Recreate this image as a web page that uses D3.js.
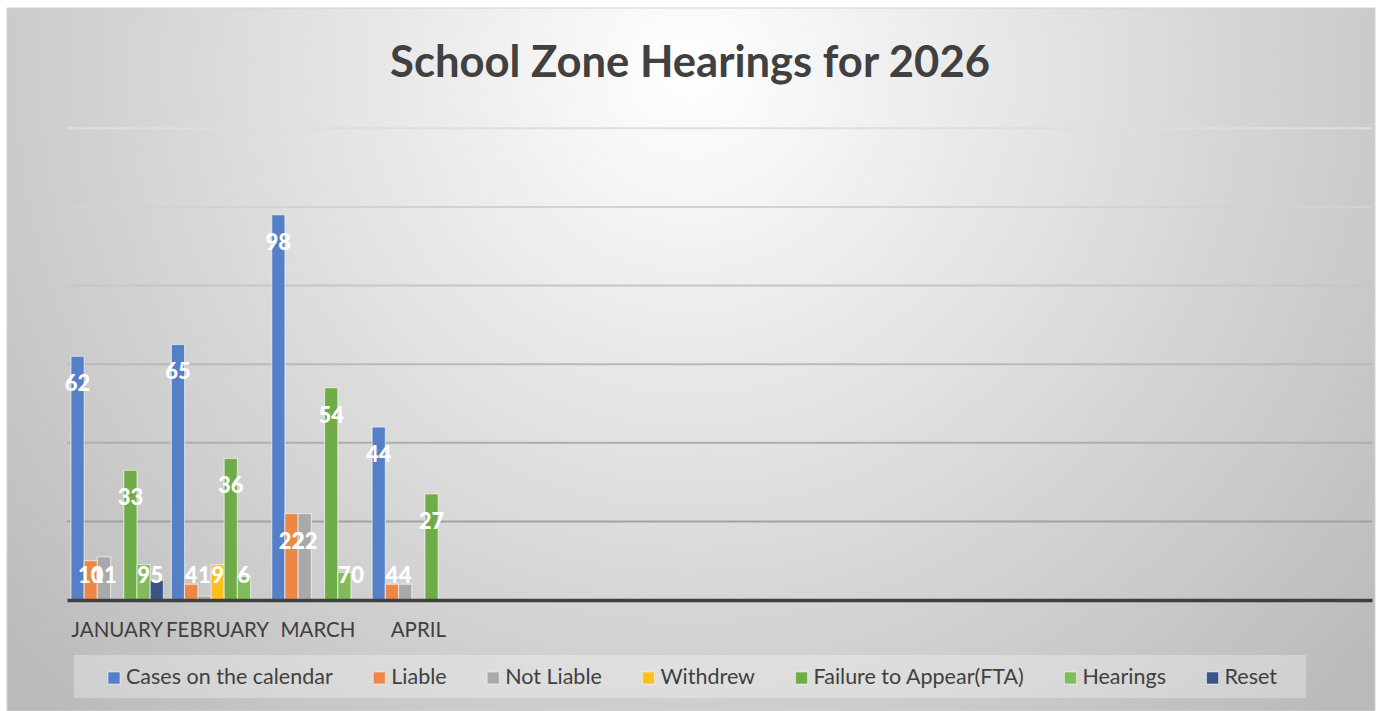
<!DOCTYPE html>
<html>
<head>
<meta charset="utf-8">
<script src="https://cdn.jsdelivr.net/npm/d3@7"></script>
<style>
  html, body { margin: 0; padding: 0; background: #ffffff; }
  svg { display: block; }
  text { font-family: Lato, "Open Sans", sans-serif; }
</style>
</head>
<body>
<svg id="chart" width="1382" height="711"></svg>
<script>
// ---- data ----
const title = "School Zone Hearings for 2026";
const months = ["JANUARY", "FEBRUARY", "MARCH", "APRIL", "", "", "", "", "", "", "", "", ""];
const seriesNames = ["Cases on the calendar", "Liable", "Not Liable", "Withdrew", "Failure to Appear(FTA)", "Hearings", "Reset"];
const casesOnCalendar = [62, 65, 98, 44];
const liable = [10, 4, 22, 4];
const notLiable = [11, 1, 22, 4];
const withdrew = [null, 9, null, null];
const failureToAppear = [33, 36, 54, 27];
const hearings = [9, 6, 7, null];
const reset = [5, null, 0, null];
const yTicks = [0, 20, 40, 60, 80, 100, 120];
const colors = ["#5580c8", "#ed8746", "#a9a9a9", "#fcc01e", "#6fac47", "#82bb5c", "#3a5488"];

const seriesValues = [casesOnCalendar, liable, notLiable, withdrew, failureToAppear, hearings, reset];

// ---- layout ----
const plot = { left: 67, right: 1372, top: 128.3, bottom: 600 };
const svg = d3.select("#chart");
const defs = svg.append("defs");

const bg = defs.append("radialGradient").attr("id", "bg")
  .attr("gradientUnits", "userSpaceOnUse")
  .attr("cx", 690).attr("cy", 70).attr("r", 900);
bg.append("stop").attr("offset", 0).attr("stop-color", "#ffffff");
bg.append("stop").attr("offset", 1).attr("stop-color", "#bababa");

svg.append("rect").attr("x", 7).attr("y", 8).attr("width", 1368).attr("height", 703)
  .attr("fill", "url(#bg)").attr("stroke", "#d4d4d4").attr("stroke-width", 1);

// scales
const x0 = d3.scaleBand().domain(d3.range(months.length)).range([plot.left, plot.right]).padding(0);
const x1 = d3.scaleBand().domain(d3.range(seriesNames.length)).range([0, x0.bandwidth()])
  .paddingInner(0).paddingOuter(0.3);
const y = d3.scaleLinear().domain([0, 120]).range([plot.bottom, plot.top]);

// gridlines
const gridColor = d3.scaleLinear().domain([plot.top, plot.bottom]).range(["#dedede", "#969696"]);
svg.append("g").selectAll("line").data(yTicks.filter(d => d > 0)).join("line")
  .attr("x1", plot.left).attr("x2", plot.right)
  .attr("y1", d => y(d)).attr("y2", d => y(d))
  .attr("stroke", d => gridColor(y(d))).attr("stroke-width", 2);

// bars
const barData = [];
months.forEach((m, i) => {
  seriesValues.forEach((vals, s) => {
    const v = vals[i];
    if (v !== null && v !== undefined) barData.push({ i, s, v });
  });
});

svg.append("g").selectAll("rect").data(barData).join("rect")
  .attr("x", d => x0(d.i) + x1(d.s))
  .attr("y", d => y(d.v))
  .attr("width", x1.bandwidth())
  .attr("height", d => y(0) - y(d.v))
  .attr("fill", d => colors[d.s])
  .attr("stroke", "rgba(255,255,255,0.55)")
  .attr("stroke-width", 1.2);

// baseline axis
const xAxis = d3.axisBottom(x0).tickSize(0).tickFormat(i => months[i]);
const gx = svg.append("g").attr("transform", `translate(0,${plot.bottom})`).call(xAxis);
gx.select(".domain").attr("stroke", "#404040").attr("stroke-width", 3.5);
gx.selectAll("text").attr("font-size", 20.5).attr("fill", "#404040")
  .attr("dy", "0").attr("y", 37).attr("font-family", "Lato, sans-serif");

// data labels
svg.append("g").selectAll("text").data(barData).join("text")
  .attr("x", d => x0(d.i) + x1(d.s) + x1.bandwidth() / 2)
  .attr("y", d => Math.min(y(d.v) + 27, y(0) - 25) + 8)
  .attr("text-anchor", "middle")
  .attr("font-size", 22).attr("font-weight", 900)
  .attr("fill", "#ffffff")
  .text(d => d.v);

// title
const t = svg.append("text").attr("x", 690).attr("y", 77)
  .attr("text-anchor", "middle").attr("font-weight", 700).attr("font-size", 40)
  .attr("fill", "#404040").text(title);
const tw = t.node().getComputedTextLength();
t.attr("font-size", 40 * 600 / tw);

// legend
svg.append("rect").attr("x", 74).attr("y", 655).attr("width", 1232).attr("height", 43)
  .attr("fill", "rgba(255,255,255,0.3)");
const lg = svg.append("g");
const items = lg.selectAll("g").data(seriesNames).join("g");
items.append("rect").attr("width", 12).attr("height", 12).attr("y", -12)
  .attr("fill", (d, i) => colors[i]).attr("stroke", "rgba(255,255,255,0.5)").attr("stroke-width", 1);
items.append("text").attr("x", 18).attr("y", 0).attr("font-size", 21.5).attr("fill", "#404040").text(d => d);
const widths = [];
items.each(function () {
  widths.push(18 + d3.select(this).select("text").node().getComputedTextLength());
});
const legStart = 108, legEnd = 1277;
const gap = (legEnd - legStart - d3.sum(widths)) / (widths.length - 1);
const offsets = [];
let cx = legStart;
widths.forEach(w => { offsets.push(cx); cx += w + gap; });
items.attr("transform", (d, i) => `translate(${offsets[i]},684)`);
</script>
</body>
</html>
